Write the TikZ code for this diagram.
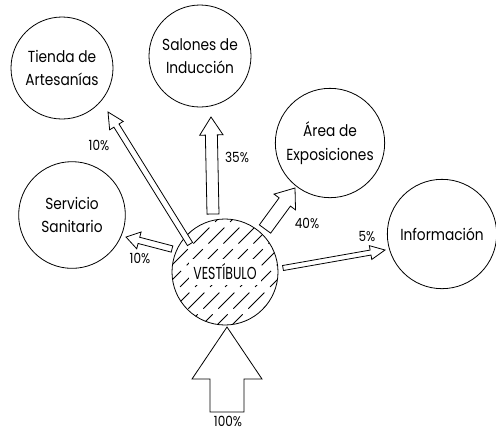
\documentclass[tikz,border=0pt]{standalone}
\usepackage{fontspec}
\setmainfont{Poppins}[FakeStretch=0.86]
\newfontfamily\vfont{Poppins}[FakeStretch=0.72]
\usetikzlibrary{calc}
\tikzset{
  room/.style={draw, circle, line width=0.6pt, inner sep=0pt, align=center, font=\fontsize{12}{17.5}\selectfont},
  arr/.style={draw, fill=white, line width=0.6pt, line join=miter},
  pct/.style={font=\fontsize{10.5}{12}\selectfont, inner sep=1pt}
}
\newcommand\blkarrow[5]{%
  \coordinate (hb) at ($(#2)!#5!(#1)$);
  \path[arr] ($(#1)!#3!90:(#2)$) -- ($(hb)!#3!90:(#2)$) -- ($(hb)!#4!90:(#2)$) -- (#2)
    -- ($(hb)!#4!-90:(#2)$) -- ($(hb)!#3!-90:(#2)$) -- ($(#1)!#3!-90:(#2)$) -- cycle;
}
\begin{document}
\begin{tikzpicture}[x=0.75pt,y=-0.75pt]
\useasboundingbox (0,0) rectangle (496,430);
% rooms
\node[room, minimum size=76.5pt] (tienda) at (62,68) {Tienda de\\Artesanías};
\node[room, minimum size=76.5pt] (salones) at (200,56) {Salones de\\Inducción};
\node[room, minimum size=82pt] (area) at (330,143) {Área de\\Exposiciones};
\node[room, minimum size=82pt] (info) at (442,234) {Información};
\node[room, minimum size=80pt] (serv) at (72,215) {Servicio\\Sanitario};
% vestibulo
\coordinate (vc) at (225,272);
\begin{scope}
  \clip (vc) circle [radius=39.75pt];
  \foreach \i in {-8,...,8}
    \draw[line width=0.6pt, dash pattern=on 17pt off 6pt] ($(vc)+(\i*15-80,80)$) -- ++(160,-160);
\end{scope}
\node[fill=white, inner xsep=3pt, inner ysep=4pt, font=\vfont\fontsize{13}{14}\selectfont] (vtext) at (vc) {VESTÍBULO};
\node[draw, circle, line width=0.6pt, minimum size=79.5pt, inner sep=0pt] (vest) at (vc) {};
% arrow endpoints
\coordinate (s100) at (227,412); \coordinate (t100) at (227,327);
\coordinate (s35) at (213,214);  \coordinate (t35) at (211,117);
\coordinate (st) at (190,244);   \coordinate (tt) at (108,112);
\coordinate (ss) at (172,249);   \coordinate (ts) at (126,237);
\coordinate (sa) at (265,229);   \coordinate (ta) at (295,188);
\coordinate (si) at (283,268);   \coordinate (ti) at (385,250);
\blkarrow{s100}{t100}{12.75pt}{26.25pt}{39pt}
\blkarrow{s35}{t35}{4.5pt}{8.75pt}{13.5pt}
\blkarrow{st}{tt}{2.25pt}{6pt}{12pt}
\blkarrow{ss}{ts}{2.4pt}{6.5pt}{10pt}
\blkarrow{sa}{ta}{5.25pt}{10pt}{13pt}
\blkarrow{si}{ti}{1.9pt}{5.25pt}{11pt}
% labels
\node[pct] (l100) at (228,421) {100\%};
\node[pct] (l35) at (237,157) {35\%};
\node[pct] (lt) at (99,145) {10\%};
\node[pct] (ls) at (140,258) {10\%};
\node[pct] (la) at (307,223) {40\%};
\node[pct] (li) at (367,237) {5\%};
\end{tikzpicture}
\end{document}
